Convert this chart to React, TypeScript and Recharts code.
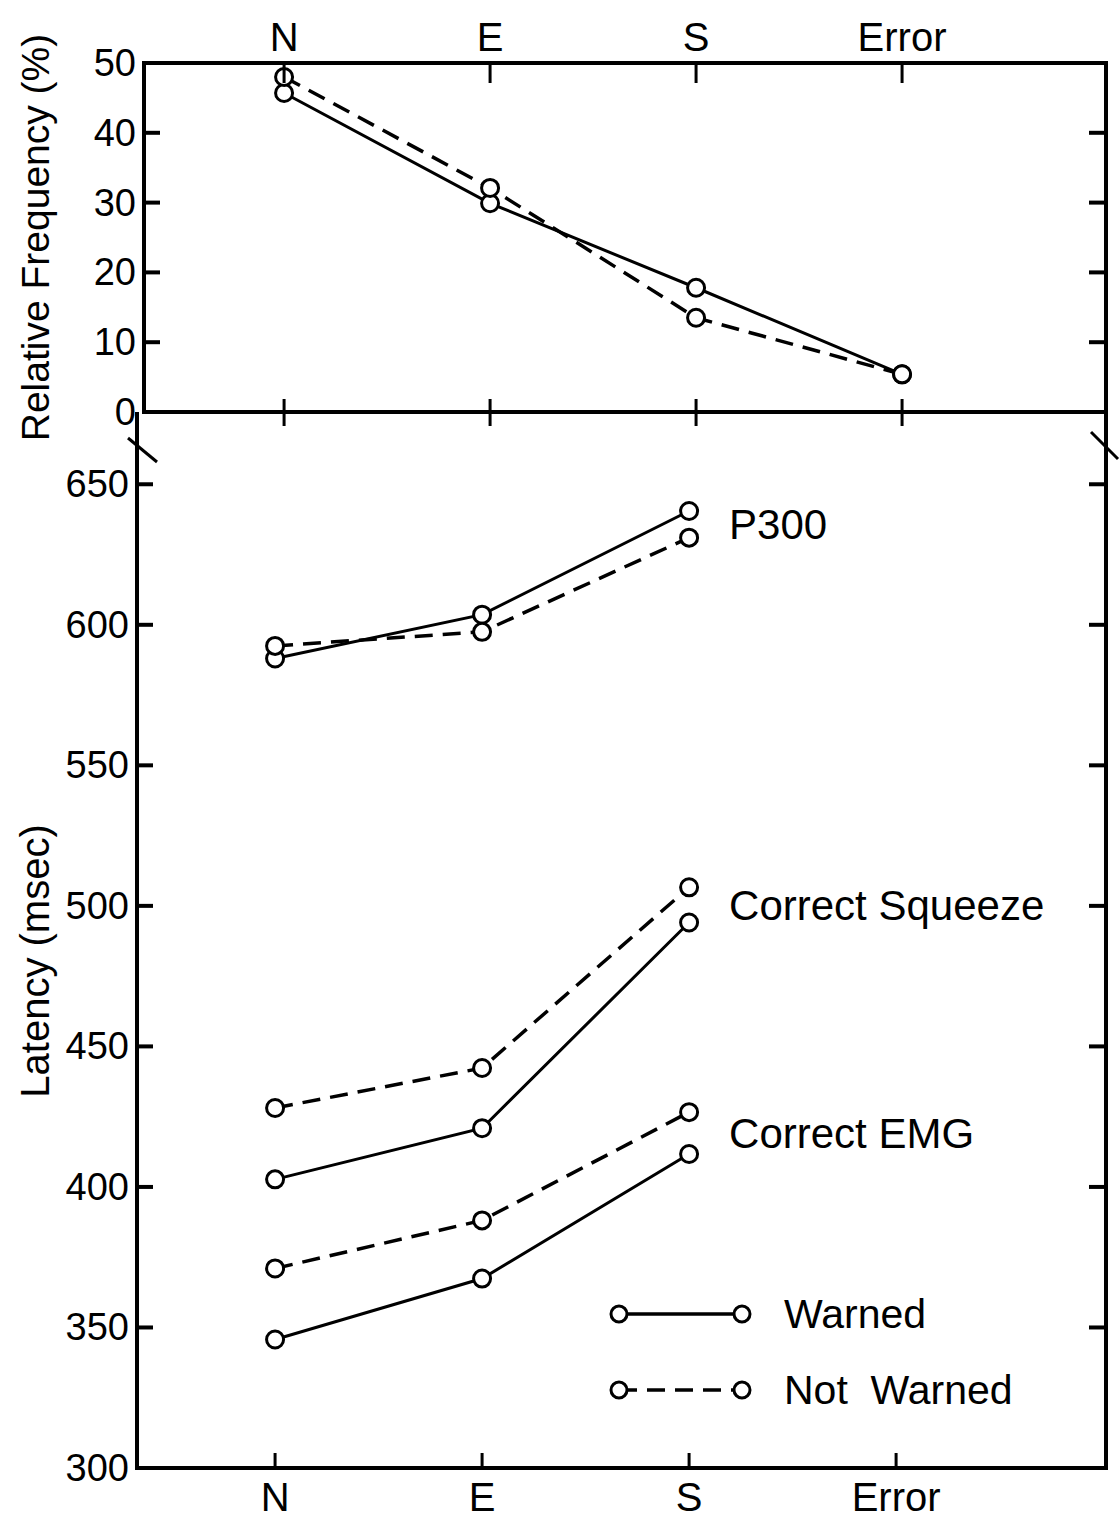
import { LineChart, Line, XAxis, YAxis, ReferenceDot, Legend } from 'recharts';

const FONT = '"Liberation Sans", Arial, Helvetica, sans-serif';

// categories + axis ticks
const categories = ['N', 'E', 'S', 'Error'];
const catTicks = [0, 1, 2, 3];
const freqTicks = [0, 10, 20, 30, 40, 50];
const latencyTicks = [300, 350, 400, 450, 500, 550, 600, 650];

// top panel: relative frequency (%)
const freqWarned = [45.7, 29.9, 17.8, 5.4];
const freqNotWarned = [48.0, 32.1, 13.5, 5.4];

// bottom panel: latency (msec), N / E / S only
const p300Warned = [588, 603.6, 640.5];
const p300NotWarned = [592.5, 597.5, 631];
const squeezeWarned = [402.7, 420.9, 494.1];
const squeezeNotWarned = [428.1, 442.3, 506.6];
const emgWarned = [345.7, 367.4, 411.7];
const emgNotWarned = [371, 388.1, 426.6];

const latencyGroups = [
  { key: 'p300', label: 'P300', warned: p300Warned, notWarned: p300NotWarned },
  { key: 'squeeze', label: 'Correct  Squeeze', warned: squeezeWarned, notWarned: squeezeNotWarned },
  { key: 'emg', label: 'Correct EMG', warned: emgWarned, notWarned: emgNotWarned },
];

const legendItems = [
  { name: 'Warned', dashed: false },
  { name: 'Not  Warned', dashed: true },
];

const freqData = categories.map((_, i) => ({ x: i, warned: freqWarned[i], notWarned: freqNotWarned[i] }));

const latencyData = categories.map((_, i) => {
  const row: Record<string, number | undefined> = { x: i };
  latencyGroups.forEach((g) => {
    row[g.key + 'W'] = g.warned[i];
    row[g.key + 'NW'] = g.notWarned[i];
  });
  return row;
});

const DASH = '18 10';
const SW = 3;
const AW = 4;
const dotStyle = { r: 8.5, fill: '#fff', stroke: '#000', strokeWidth: SW, strokeDasharray: 'none' };
const axisLine = { stroke: '#000', strokeWidth: AW, strokeLinecap: 'square' as const };

type TickProps = { x?: number; y?: number; payload?: { value: number } };

function LeftTick({ x = 0, y = 0, payload }: TickProps) {
  return (
    <g>
      <line x1={x} x2={x + 16} y1={y} y2={y} stroke="#000" strokeWidth={AW} />
      <text x={x - 8} y={y} textAnchor="end" dominantBaseline="central" fontSize={38} fontFamily={FONT} fill="#000">
        {payload?.value}
      </text>
    </g>
  );
}

function RightTick({ x = 0, y = 0 }: TickProps) {
  return <line x1={x - 17} x2={x} y1={y} y2={y} stroke="#000" strokeWidth={AW} />;
}

function TopCatTick({ x = 0, y = 0, payload }: TickProps) {
  return (
    <g>
      <line x1={x} x2={x} y1={y} y2={y + 20} stroke="#000" strokeWidth={SW} />
      <text x={x} y={y - 12} textAnchor="middle" fontSize={40} fontFamily={FONT} fill="#000">
        {categories[payload?.value ?? 0]}
      </text>
    </g>
  );
}

function CrossTick({ x = 0, y = 0 }: TickProps) {
  return <line x1={x} x2={x} y1={y - 13} y2={y + 14} stroke="#000" strokeWidth={SW} />;
}

function BottomCatTick({ x = 0, y = 0, payload }: TickProps) {
  return (
    <g>
      <line x1={x} x2={x} y1={y - 15} y2={y} stroke="#000" strokeWidth={SW} />
      <text x={x} y={y + 43} textAnchor="middle" fontSize={40} fontFamily={FONT} fill="#000">
        {categories[payload?.value ?? 0]}
      </text>
    </g>
  );
}

function LegendContent() {
  return (
    <svg width={440} height={140}>
      {legendItems.map((item, i) => {
        const y = 24 + i * 76;
        return (
          <g key={item.name}>
            <line x1={19} x2={142} y1={y} y2={y} stroke="#000" strokeWidth={3.5} strokeDasharray={item.dashed ? DASH : undefined} />
            <circle cx={19} cy={y} r={8} fill="#fff" stroke="#000" strokeWidth={SW} />
            <circle cx={142} cy={y} r={8} fill="#fff" stroke="#000" strokeWidth={SW} />
            <text x={184} y={y} dominantBaseline="central" fontSize={41} fontFamily={FONT} fill="#000"
              style={{ whiteSpace: 'pre' }}>
              {item.name}
            </text>
          </g>
        );
      })}
    </svg>
  );
}

export default function App() {
  return (
    <div style={{ position: 'absolute', left: 0, top: 0, width: 1120, height: 1526, background: '#fff' }}>
      {/* top panel */}
      <div style={{ position: 'absolute', left: 0, top: 0 }}>
        <LineChart width={1120} height={440} data={freqData} margin={{ top: 23, right: 10, bottom: 18, left: 84 }}>
          <XAxis xAxisId="t" orientation="top" type="number" dataKey="x" domain={[-0.68, 3.99]} allowDataOverflow
            ticks={catTicks} interval={0} height={40} tickSize={0} tickMargin={0} tickLine={false}
            axisLine={axisLine} tick={<TopCatTick />} />
          <XAxis xAxisId="b" orientation="bottom" type="number" dataKey="x" domain={[-0.68, 3.99]} allowDataOverflow
            ticks={catTicks} interval={0} height={10} tickSize={0} tickMargin={0} tickLine={false}
            axisLine={axisLine} tick={<CrossTick />} />
          <YAxis yAxisId="l" orientation="left" domain={[0, 50]} allowDataOverflow ticks={freqTicks} interval={0}
            width={60} tickSize={0} tickMargin={0} tickLine={false} axisLine={axisLine} tick={<LeftTick />}
            label={{ value: 'Relative Frequency (%)', angle: -90, position: 'insideLeft', offset: -49, fontSize: 39,
              fontFamily: FONT, fill: '#000', style: { textAnchor: 'middle' } }} />
          <YAxis yAxisId="r" orientation="right" domain={[0, 50]} allowDataOverflow ticks={freqTicks} interval={0}
            width={4} tickSize={0} tickMargin={0} tickLine={false} axisLine={axisLine} tick={<RightTick />} />
          <Line xAxisId="t" yAxisId="l" type="linear" dataKey="warned" stroke="#000" strokeWidth={SW}
            dot={dotStyle} activeDot={false} isAnimationActive={false} />
          <Line xAxisId="b" yAxisId="r" type="linear" dataKey="notWarned" stroke="#000" strokeWidth={3.5}
            strokeDasharray={DASH} dot={dotStyle} activeDot={false} isAnimationActive={false} />
        </LineChart>
      </div>

      {/* bottom panel */}
      <div style={{ position: 'absolute', left: 0, top: 400 }}>
        <LineChart width={1120} height={1126} data={latencyData} margin={{ top: 14, right: 10, bottom: 8, left: 77 }}>
          <XAxis type="number" dataKey="x" domain={[-0.667, 4.014]} allowDataOverflow ticks={catTicks} interval={0}
            height={50} tickSize={0} tickMargin={0} tickLine={false} axisLine={axisLine} tick={<BottomCatTick />} />
          <YAxis yAxisId="l" orientation="left" domain={[300, 675]} allowDataOverflow ticks={latencyTicks} interval={0}
            width={60} tickSize={0} tickMargin={0} tickLine={false} axisLine={axisLine} tick={<LeftTick />}
            label={{ value: 'Latency (msec)', angle: -90, position: 'insideLeft', offset: -42, dy: 20, fontSize: 40,
              fontFamily: FONT, fill: '#000', style: { textAnchor: 'middle' } }} />
          <YAxis yAxisId="r" orientation="right" domain={[300, 675]} allowDataOverflow ticks={latencyTicks} interval={0}
            width={4} tickSize={0} tickMargin={0} tickLine={false} axisLine={axisLine} tick={<RightTick />} />
          {latencyGroups.map((g) => (
            <Line key={g.key + 'W'} yAxisId="l" type="linear" dataKey={g.key + 'W'} stroke="#000" strokeWidth={SW}
              dot={dotStyle} activeDot={false} isAnimationActive={false} />
          ))}
          {latencyGroups.map((g) => (
            <Line key={g.key + 'NW'} yAxisId="r" type="linear" dataKey={g.key + 'NW'} stroke="#000" strokeWidth={3.5}
              strokeDasharray={DASH} dot={dotStyle} activeDot={false} isAnimationActive={false} />
          ))}
          {latencyGroups.map((g) => (
            <ReferenceDot key={g.key + 'lbl'} yAxisId="l" x={2} y={(g.warned[2] + g.notWarned[2]) / 2} r={0}
              fill="none" stroke="none"
              label={{ value: g.label, position: 'right', offset: 40, fontSize: 42, fontFamily: FONT, fill: '#000',
                style: { whiteSpace: 'pre' } }} />
          ))}
          <Legend layout="vertical" align="center" verticalAlign="middle" content={<LegendContent />}
            wrapperStyle={{ left: 600, top: 890, width: 440, height: 140 }} />
        </LineChart>
      </div>

      {/* axis break marks */}
      <svg width={1120} height={1526} style={{ position: 'absolute', left: 0, top: 0, pointerEvents: 'none' }}>
        <line x1={128} y1={438} x2={157} y2={462} stroke="#000" strokeWidth={SW} />
        <line x1={1091} y1={432} x2={1118} y2={459} stroke="#000" strokeWidth={SW} />
      </svg>
    </div>
  );
}
